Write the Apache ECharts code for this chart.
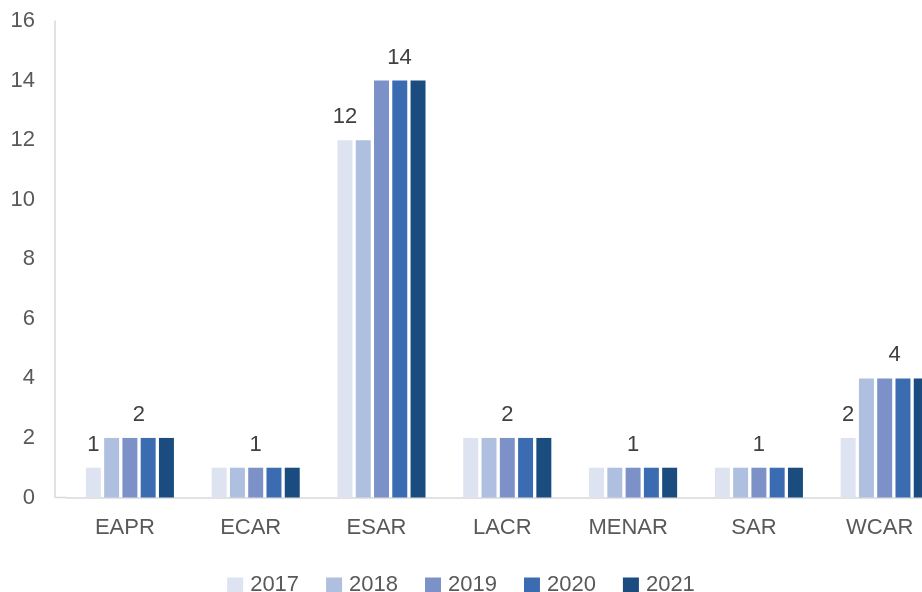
<!DOCTYPE html>
<html>
<head>
<meta charset="utf-8">
<script src="https://cdn.jsdelivr.net/npm/echarts@6/dist/echarts.min.js"></script>
<style>
  html, body { margin: 0; padding: 0; background: #fff; }
  #main { width: 922px; height: 592px; }
</style>
</head>
<body>
<div id="main"></div>
<script>
var regions = ['EAPR', 'ECAR', 'ESAR', 'LACR', 'MENAR', 'SAR', 'WCAR'];
var years = ['2017', '2018', '2019', '2020', '2021'];
var v2017 = [1, 1, 12, 2, 1, 1, 2];
var v2018 = [2, 1, 12, 2, 1, 1, 4];
var v2019 = [2, 1, 14, 2, 1, 1, 4];
var v2020 = [2, 1, 14, 2, 1, 1, 4];
var v2021 = [2, 1, 14, 2, 1, 1, 4];
// which bars carry a value label in the original
var labels2017 = ['EAPR', 'ESAR', 'WCAR'];
var yTicks = [0, 2, 4, 6, 8, 10, 12, 14, 16];

var colors = ['#dde3f0', '#afbfdf', '#7b91c8', '#3b6cb2', '#1a4c7f'];
var font = '"Liberation Sans", Arial, sans-serif';
// labels in the original sit a bit right of the bar
var labelShift = { EAPR: 9, ESAR: 18, WCAR: 10 };

var myChart = echarts.init(document.getElementById('main'));

function labelStyle() {
	return {
		show: true,
		position: 'top',
		distance: 12,
		color: '#404040',
		fontSize: 22,
		fontFamily: font
	};
}

function buildSeries(name, values, idx) {
	var data = values.map(function (v, i) {
		var item = { value: v };
		var r = regions[i];
		if (name === '2017' && labels2017.indexOf(r) >= 0) {
			item.label = labelStyle();
		}
		if (name === '2019') {
			var lb = labelStyle();
			lb.offset = [labelShift[r] || 0, 0];
			item.label = lb;
		}
		return item;
	});
	return {
		name: name,
		type: 'bar',
		data: data,
		itemStyle: { color: colors[idx] },
		barGap: '22%',
		barCategoryGap: '30%',
		label: { show: false }
	};
}

var allValues = [v2017, v2018, v2019, v2020, v2021];

var option = {
	animation: false,
	backgroundColor: '#fff',
	textStyle: { fontFamily: font },
	// plot runs past the right edge, as in the original
	grid: { left: 67, width: 880.6, top: 21, bottom: 94.5, containLabel: false, outerBoundsMode: 'none' },
	legend: {
		data: years,
		left: 'center',
		top: 569,
		icon: 'rect',
		itemWidth: 16,
		itemHeight: 15,
		itemGap: 27,
		textStyle: { color: '#595959', fontSize: 22, fontFamily: font, padding: [0, 0, 0, 2] }
	},
	xAxis: {
		type: 'category',
		data: regions,
		axisLine: { lineStyle: { color: '#d9d9d9', width: 1.5 } },
		axisTick: { show: false },
		axisLabel: { color: '#595959', fontSize: 22, fontFamily: font, margin: 19, padding: [0, 10, 0, 0] }
	},
	yAxis: {
		type: 'value',
		min: yTicks[0],
		max: yTicks[yTicks.length - 1],
		interval: 2,
		offset: 12,
		axisLine: { show: true, lineStyle: { color: '#d9d9d9', width: 1.5 } },
		axisTick: { show: false },
		splitLine: { show: false },
		axisLabel: { color: '#595959', fontSize: 22, fontFamily: font, margin: 20 }
	},
	graphic: [{
		// short piece of baseline between the y axis and the first category
		type: 'line',
		shape: { x1: 55, y1: 497.5, x2: 67, y2: 497.5 },
		style: { stroke: '#d9d9d9', lineWidth: 1.5 }
	}],
	series: years.map(function (y, i) { return buildSeries(y, allValues[i], i); })
};

myChart.setOption(option);
</script>
</body>
</html>
